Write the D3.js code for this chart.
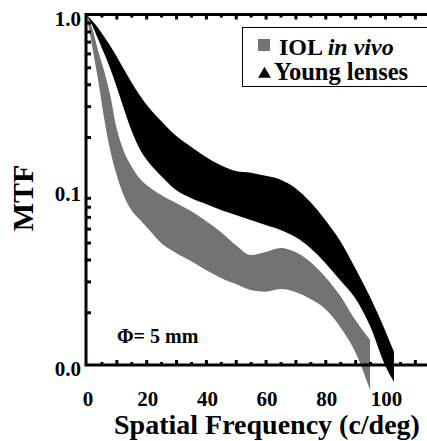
<!DOCTYPE html>
<html>
<head>
<meta charset="utf-8">
<script src="https://cdn.jsdelivr.net/npm/d3@7"></script>
<style>
body { margin: 0; background: #fff; }
text { font-family: "Liberation Serif", "Times New Roman", serif; font-weight: bold; }
</style>
</head>
<body>
<script>
// young lenses band (black), spatial frequency in c/deg
const youngFreq = [0, 2, 4, 6, 8, 10, 12, 15, 18, 21, 25, 30, 35, 40, 45, 50, 55, 60, 65, 70, 75, 80, 85, 90, 95, 100, 103];
const youngHigh = [1.0, 0.918, 0.832, 0.744, 0.661, 0.580, 0.505, 0.412, 0.343, 0.293, 0.247, 0.203, 0.176, 0.154, 0.138, 0.128, 0.125, 0.120, 0.114, 0.102, 0.0851, 0.0672, 0.0510, 0.0358, 0.0244, 0.0158, 0.0119];
const youngLow = [1.0, 0.860, 0.715, 0.595, 0.489, 0.391, 0.309, 0.219, 0.1686, 0.1421, 0.1199, 0.0997, 0.0897, 0.0829, 0.0766, 0.0718, 0.0672, 0.0629, 0.0589, 0.0537, 0.0465, 0.0382, 0.0305, 0.0241, 0.0167, 0.0100, 0.0080];

// IOL in vivo band (gray)
const iolFreq = [0, 2, 4, 6, 8, 10, 12, 15, 18, 21, 25, 30, 35, 40, 45, 50, 55, 60, 65, 70, 75, 80, 85, 90, 95];
const iolHigh = [1.0, 0.827, 0.611, 0.470, 0.343, 0.228, 0.175, 0.1366, 0.1152, 0.1037, 0.0933, 0.0840, 0.0756, 0.0663, 0.0574, 0.0484, 0.0424, 0.0441, 0.0465, 0.0441, 0.0387, 0.0318, 0.0248, 0.0181, 0.0139];
const iolLow = [1.0, 0.644, 0.412, 0.250, 0.1664, 0.1230, 0.0971, 0.0766, 0.0672, 0.0589, 0.0497, 0.0436, 0.0392, 0.0348, 0.0314, 0.0290, 0.0268, 0.0262, 0.0271, 0.0261, 0.0238, 0.0209, 0.0165, 0.0119, 0.0072];

const xTicks = [0, 20, 40, 60, 80, 100];
const yTicks = [1, 0.1, 0.01];
const yTickLabels = ['1.0', '0.1', '0.0'];

const width = 427;
const height = 441;

const x = d3.scaleLinear().domain([0, 100]).range([86.5, 385]);
const y = d3.scaleLog().domain([0.01, 1]).range([365, 14.5]);
const xEnd = 116;

const svg = d3.select('body').append('svg')
    .attr('width', width)
    .attr('height', height);

const band = (freqs, lo, hi) => freqs.map((f, i) => ({ f: f, lo: lo[i], hi: hi[i] }));

const area = d3.area()
    .x(d => x(d.f))
    .y0(d => y(d.lo))
    .y1(d => y(d.hi))
    .curve(d3.curveMonotoneX);

svg.append('path')
    .datum(band(iolFreq, iolLow, iolHigh))
    .attr('d', area)
    .attr('fill', '#737373');

svg.append('path')
    .datum(band(youngFreq, youngLow, youngHigh))
    .attr('d', area)
    .attr('fill', '#000');

// minor ticks every 5 c/deg, major every 10
const minorX = d3.range(5, xEnd, 10);
const majorX = d3.range(10, xEnd, 10);
const minorY = [];
[0.01, 0.1].forEach(dec => d3.range(2, 10).forEach(k => minorY.push(dec * k)));

svg.append('g')
    .attr('transform', `translate(0, ${y(0.01)})`)
    .call(d3.axisBottom(x).tickValues(majorX).tickSizeInner(-5).tickSizeOuter(0).tickFormat(''))
    .call(g => g.select('.domain').remove());
svg.append('g')
    .attr('transform', `translate(0, ${y(0.01)})`)
    .call(d3.axisBottom(x).tickValues(minorX).tickSizeInner(-3).tickSizeOuter(0).tickFormat(''))
    .call(g => g.select('.domain').remove());
svg.append('g')
    .attr('transform', `translate(0, ${y(1)})`)
    .call(d3.axisTop(x).tickValues(majorX).tickSizeInner(-5).tickSizeOuter(0).tickFormat(''))
    .call(g => g.select('.domain').remove());
svg.append('g')
    .attr('transform', `translate(0, ${y(1)})`)
    .call(d3.axisTop(x).tickValues(minorX).tickSizeInner(-3).tickSizeOuter(0).tickFormat(''))
    .call(g => g.select('.domain').remove());
svg.append('g')
    .attr('transform', `translate(${x(0) - 0.5}, 0)`)
    .call(d3.axisLeft(y).tickValues(minorY).tickSizeInner(-5).tickSizeOuter(0).tickFormat(''))
    .call(g => g.select('.domain').remove());
svg.selectAll('.tick line').attr('stroke-width', 3);

// frame
svg.append('path')
    .attr('d', `M${x(xEnd)},${y(1)}H${x(0) - 0.5}V${y(0.01)}H${x(xEnd)}`)
    .attr('fill', 'none')
    .attr('stroke', '#000')
    .attr('stroke-width', 3);

// tick labels
svg.append('g').selectAll('text').data(xTicks)
    .enter().append('text')
    .attr('x', d => x(d) + 1.5)
    .attr('y', 406)
    .attr('text-anchor', 'middle')
    .attr('font-size', 21)
    .text(d => d);

svg.append('g').selectAll('text').data(yTicks)
    .enter().append('text')
    .attr('x', 81)
    .attr('y', d => y(d) + 11)
    .attr('text-anchor', 'end')
    .attr('font-size', 21)
    .text((d, i) => yTickLabels[i]);

// axis titles
svg.append('text')
    .attr('x', 267)
    .attr('y', 434)
    .attr('text-anchor', 'middle')
    .attr('font-size', 28)
    .text('Spatial Frequency (c/deg)');

svg.append('text')
    .attr('transform', 'translate(33, 198) rotate(-90)')
    .attr('text-anchor', 'middle')
    .attr('font-size', 30)
    .text('MTF');

svg.append('text')
    .attr('x', 117)
    .attr('y', 343)
    .attr('font-size', 20)
    .text('\u03A6= 5 mm');

// legend
const legend = svg.append('g');
legend.append('rect')
    .attr('x', 242.5).attr('y', 27.5)
    .attr('width', 200).attr('height', 59)
    .attr('fill', '#fff')
    .attr('stroke', '#000')
    .attr('stroke-width', 1);
legend.append('rect')
    .attr('x', 258).attr('y', 39)
    .attr('width', 12).attr('height', 12)
    .attr('fill', '#737373');
const t1 = legend.append('text')
    .attr('x', 279).attr('y', 55)
    .attr('font-size', 24);
t1.append('tspan').text('IOL ');
t1.append('tspan').attr('font-style', 'italic').text('in vivo');
legend.append('path')
    .attr('d', d3.symbol(d3.symbolTriangle, 70)())
    .attr('transform', 'translate(264.5, 74)')
    .attr('fill', '#000');
legend.append('text')
    .attr('x', 274).attr('y', 80)
    .attr('font-size', 24.5)
    .text('Young lenses');
</script>
</body>
</html>
